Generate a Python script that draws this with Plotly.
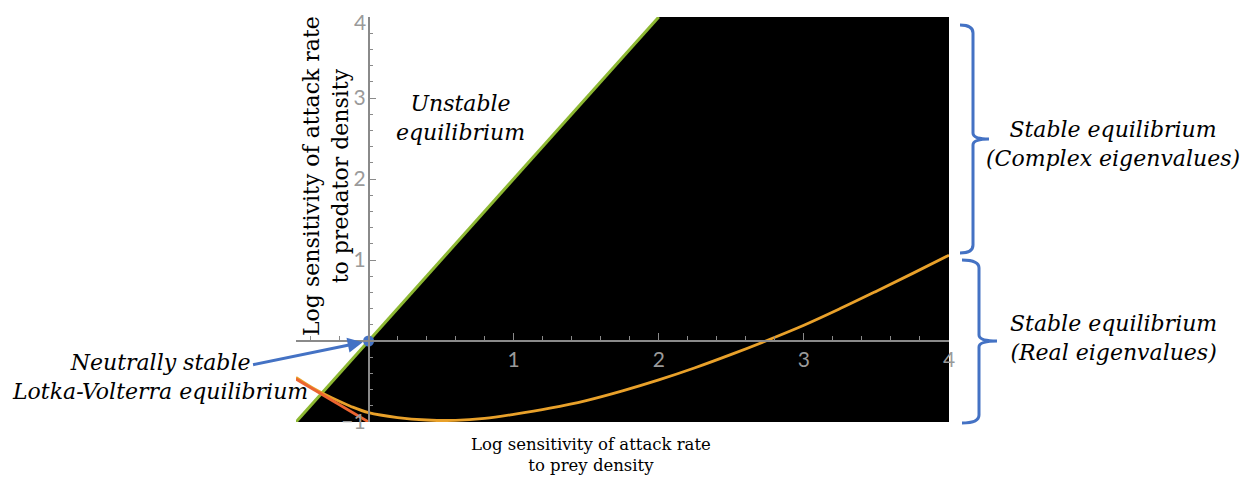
import plotly.graph_objects as go

# ---------------- data ----------------
X_RANGE = [-0.5, 4.0]
Y_RANGE = [-1.0, 4.0]

# boundary between unstable and stable equilibrium (y = 2x)
boundary_x = [-0.5, 2.0]
boundary_y = [-1.0, 4.0]

# stable region (black)
stable_x = [-0.5, 2.0, 4.0, 4.0, -0.5]
stable_y = [-1.0, 4.0, 4.0, -1.0, -1.0]

# boundary between real and complex eigenvalues (orange curve)
curve_x = [-0.5, -0.375, -0.25, -0.125, 0.0, 0.2, 0.4, 0.6, 0.8, 1.0, 1.25,
           1.5, 1.75, 2.0, 2.25, 2.5, 2.75, 3.0, 3.25, 3.5, 3.75, 4.0]
curve_y = [-0.45, -0.59, -0.705, -0.805, -0.885, -0.945, -0.975, -0.98,
           -0.955, -0.905, -0.83, -0.735, -0.615, -0.48, -0.33, -0.165, 0.01,
           0.195, 0.40, 0.615, 0.835, 1.06]

# red segment
red_x = [-0.5, 0.0]
red_y = [-0.47, -1.0]

# Lotka-Volterra point
lv_x = [0.0]
lv_y = [0.0]

x_tick_vals = [1, 2, 3, 4]
x_tick_text = ["1", "2", "3", "4"]
y_tick_vals = [-1, 1, 2, 3, 4]
y_tick_text = ["\u22121", "1", "2", "3", "4"]

# ---------------- layout geometry ----------------
# page body has an 8px margin; the figure is sized to fit the 1248x485 window
OFF = 8
W, H = 1248 - 2 * OFF, 485 - 2 * OFF
PLOT_L, PLOT_R, PLOT_T, PLOT_B = 296, 949, 17, 422   # window pixels
L, T = PLOT_L - OFF, PLOT_T - OFF
R, B = W - (PLOT_R - OFF), H - (PLOT_B - OFF)
PW, PH = W - L - R, H - T - B


def px(p):
    return (p - OFF - L) / PW


def py(p):
    return (H - B - (p - OFF)) / PH


BLUE = "#4472C4"
GREEN = "#8DB832"
ORANGE = "#E9A12A"
RED = "#EC6430"
AX_GREY = "#8a8a8a"
TICK_GREY = "#9a9a9a"
SERIF = "DejaVu Serif"
TICK_FONT = dict(family="Lato", size=21, color=TICK_GREY)

fig = go.Figure()

fig.add_trace(go.Scatter(x=stable_x, y=stable_y, mode="lines", fill="toself",
                         fillcolor="black", line=dict(width=0, color="black"),
                         hoverinfo="skip", showlegend=False))
fig.add_trace(go.Scatter(x=boundary_x, y=boundary_y, mode="lines",
                         line=dict(color=GREEN, width=3), showlegend=False))
fig.add_trace(go.Scatter(x=curve_x, y=curve_y, mode="lines", line_shape="spline",
                         line=dict(color=ORANGE, width=2.8), showlegend=False))
fig.add_trace(go.Scatter(x=red_x, y=red_y, mode="lines",
                         line=dict(color=RED, width=2.8), showlegend=False))
fig.add_trace(go.Scatter(x=lv_x, y=lv_y, mode="markers",
                         marker=dict(color=BLUE, size=11), showlegend=False))


def brace(x_end, x_line, x_tip, y_top, y_mid, y_bot, r=8, rm=6):
    pts = [
        f"M {px(x_end)},{py(y_top)}",
        f"Q {px(x_line)},{py(y_top)} {px(x_line)},{py(y_top + r)}",
        f"L {px(x_line)},{py(y_mid - rm)}",
        f"Q {px(x_line)},{py(y_mid)} {px(x_tip)},{py(y_mid)}",
        f"Q {px(x_line)},{py(y_mid)} {px(x_line)},{py(y_mid + rm)}",
        f"L {px(x_line)},{py(y_bot - r)}",
        f"Q {px(x_line)},{py(y_bot)} {px(x_end)},{py(y_bot)}",
    ]
    return " ".join(pts)


shapes = [
    dict(type="path", xref="paper", yref="paper",
         path=brace(960, 973, 989, 25, 139, 253),
         line=dict(color=BLUE, width=3)),
    dict(type="path", xref="paper", yref="paper",
         path=brace(962, 979, 997, 260, 341, 423),
         line=dict(color=BLUE, width=3)),
]


def ann(text, x, y, size, italic=True, angle=0, align="center"):
    return dict(text=text, xref="paper", yref="paper", x=px(x), y=py(y),
                xanchor="center", yanchor="middle", showarrow=False,
                textangle=angle, align=align,
                font=dict(family=SERIF, size=size, color="black",
                          style="italic" if italic else "normal"))


# the topmost y tick label sits at the very top edge of the figure; draw it
# as a top-anchored label so that it stays fully inside the page
y_axis_labels = [t if v != Y_RANGE[1] else "" for v, t in zip(y_tick_vals, y_tick_text)]
top_label = y_tick_text[y_tick_vals.index(Y_RANGE[1])]

annotations = [
    ann("Unstable<br>equilibrium", 460, 118, 22),
    ann("Stable equilibrium<br>(Complex eigenvalues)", 1113, 144, 22),
    ann("Stable equilibrium<br>(Real eigenvalues)", 1113, 338, 22),
    ann("Neutrally stable<br>Lotka-Volterra equilibrium", 160, 377, 22),
    ann("Log sensitivity of attack rate<br>to predator density", 326, 176, 22,
        italic=False, angle=-90),
    ann("Log sensitivity of attack rate<br>to prey density", 591, 455, 16.5,
        italic=False),
    dict(text=top_label, xref="paper", yref="paper", x=px(366.5), y=py(OFF),
         xanchor="right", yanchor="top", showarrow=False, borderpad=0,
         font=TICK_FONT),
    dict(x=0, y=0, xref="x", yref="y", ax=-117, ay=24, axref="pixel",
         ayref="pixel", text="", showarrow=True, arrowhead=2, arrowsize=1,
         arrowwidth=3, arrowcolor=BLUE, standoff=6),
]

fig.update_layout(
    width=W, height=H,
    margin=dict(l=L, r=R, t=T, b=B, pad=0, autoexpand=False),
    paper_bgcolor="white", plot_bgcolor="white",
    showlegend=False,
    shapes=shapes,
    annotations=annotations,
    xaxis=dict(range=X_RANGE, showgrid=False, zeroline=False,
               automargin=False, ticklabeloverflow="allow",
               anchor="free",
               position=(0 - Y_RANGE[0]) / (Y_RANGE[1] - Y_RANGE[0]),
               showline=True, linecolor=AX_GREY, linewidth=1.5,
               ticks="inside", ticklen=7, tickwidth=1.3, tickcolor=AX_GREY,
               tickmode="array", tickvals=x_tick_vals, ticktext=x_tick_text,
               tickfont=TICK_FONT,
               minor=dict(ticks="inside", ticklen=4, tickwidth=1.2,
                          tickcolor=AX_GREY, dtick=0.2, tick0=0),
               layer="above traces", fixedrange=True),
    yaxis=dict(range=Y_RANGE, showgrid=False, zeroline=False,
               automargin=False, ticklabeloverflow="allow",
               anchor="free",
               position=(0 - X_RANGE[0]) / (X_RANGE[1] - X_RANGE[0]),
               showline=True, linecolor=AX_GREY, linewidth=1.5,
               ticks="inside", ticklen=7, tickwidth=1.3, tickcolor=AX_GREY,
               tickmode="array", tickvals=y_tick_vals, ticktext=y_axis_labels,
               tickfont=TICK_FONT,
               ticklabelstandoff=-2,
               minor=dict(ticks="inside", ticklen=4, tickwidth=1.2,
                          tickcolor=AX_GREY, dtick=0.2, tick0=0),
               layer="above traces", fixedrange=True),
)

fig.write_html("out.html")
